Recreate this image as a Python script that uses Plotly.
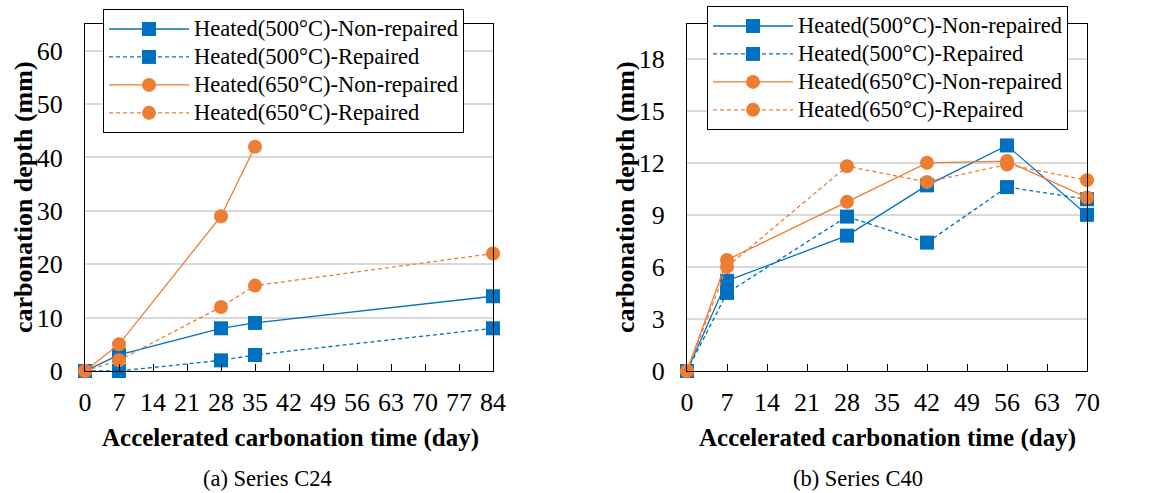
import plotly.graph_objects as go

# ---- data: carbonation depth (mm) vs accelerated carbonation time (day) ----
days_c24 = [0, 7, 28, 35, 84]
c24_500_nonrep = [0, 3, 8, 9, 14]
c24_500_rep = [0, 0, 2, 3, 8]
c24_650_nonrep_days = [0, 7, 28, 35]
c24_650_nonrep = [0, 5, 29, 42]
c24_650_rep = [0, 2, 12, 16, 22]

days_c40 = [0, 7, 28, 42, 56, 70]
c40_500_nonrep = [0, 5.2, 7.8, 10.7, 13.0, 9.0]
c40_500_rep = [0, 4.5, 8.9, 7.4, 10.6, 9.9]
c40_650_nonrep = [0, 6.4, 9.75, 12.0, 12.1, 10.0]
c40_650_rep = [0, 6.0, 11.8, 10.9, 11.9, 11.0]

series_names = [
    "Heated(500°C)-Non-repaired",
    "Heated(500°C)-Repaired",
    "Heated(650°C)-Non-repaired",
    "Heated(650°C)-Repaired",
]
x_ticks_c24 = list(range(0, 85, 7))
x_ticks_c40 = list(range(0, 71, 7))
y_ticks_c24 = list(range(0, 61, 10))
y_ticks_c40 = list(range(0, 19, 3))

W, H = 1161, 493
BLUE = "#0070C0"
ORANGE = "#ED7D31"
SERIF = "Liberation Serif"


def fx(px):
    return px / W


def fy(py):
    return 1 - py / H


def style(i):
    color = BLUE if i < 2 else ORANGE
    symbol = "square" if i < 2 else "circle"
    dash = "solid" if i % 2 == 0 else "4px,3px"
    return dict(
        line=dict(color=color, width=1.3, dash=dash),
        marker=dict(color=color, symbol=symbol, size=14),
    )


def legend_label(name):
    # larger glyphs than the legend font so rows stay compact
    return f'<span style="font-size:22.5px">{name}</span>'


fig = go.Figure()

c24 = [
    (days_c24, c24_500_nonrep),
    (days_c24, c24_500_rep),
    (c24_650_nonrep_days, c24_650_nonrep),
    (days_c24, c24_650_rep),
]
for i, (xs, ys) in enumerate(c24):
    fig.add_trace(go.Scatter(x=xs, y=ys, mode="lines+markers", name=legend_label(series_names[i]),
                             xaxis="x", yaxis="y", legend="legend",
                             cliponaxis=False, **style(i)))

c40 = [c40_500_nonrep, c40_500_rep, c40_650_nonrep, c40_650_rep]
for i, ys in enumerate(c40):
    fig.add_trace(go.Scatter(x=days_c40, y=ys, mode="lines+markers", name=legend_label(series_names[i]),
                             xaxis="x2", yaxis="y2", legend="legend2",
                             cliponaxis=False, **style(i)))

tick_font = dict(family=SERIF, size=26, color="black")
common_x = dict(showline=True, mirror=True, linecolor="black", linewidth=1.2,
                ticks="inside", ticklen=7, tickcolor="black", tickwidth=1.2,
                showgrid=False, zeroline=False, tickfont=tick_font,
                ticklabelstandoff=8, automargin=False)
common_y = dict(showline=True, mirror=True, linecolor="black", linewidth=1.2,
                ticks="", showgrid=True, gridcolor="#D9D9D9", gridwidth=1.6,
                zeroline=False, tickfont=tick_font, ticklabelstandoff=16,
                automargin=False)

legend_common = dict(xanchor="left", yanchor="top",
                     bgcolor="white", bordercolor="black", borderwidth=1,
                     font=dict(family=SERIF, size=19.2, color="black"),
                     tracegroupgap=0, itemwidth=80)

y_dom = [fy(371), fy(24)]
fig.update_layout(
    width=W, height=H,
    margin=dict(l=0, r=0, t=0, b=0, autoexpand=False),
    paper_bgcolor="white", plot_bgcolor="white",
    font=dict(family=SERIF, color="black"),
    xaxis=dict(domain=[fx(85), fx(493)], range=[0, 84], tickvals=x_ticks_c24,
               anchor="y", **common_x),
    yaxis=dict(domain=y_dom, range=[0, 65], tickvals=y_ticks_c24, anchor="x", **common_y),
    xaxis2=dict(domain=[fx(687), fx(1087)], range=[0, 70], tickvals=x_ticks_c40,
                anchor="y2", **common_x),
    yaxis2=dict(domain=y_dom, range=[0, 20], tickvals=y_ticks_c40, anchor="x2", **common_y),
    legend=dict(x=fx(103), y=fy(9), **legend_common),
    legend2=dict(x=fx(707), y=fy(6), **legend_common),
)

xtitle_font = dict(family=SERIF, size=25, color="black", weight="bold")
ytitle_font = dict(family=SERIF, size=26, color="black", weight="bold")
caption_font = dict(family=SERIF, size=22.5, color="black")
annotations = [
    # y-axis titles
    dict(text="carbonation depth (mm)", x=fx(23), y=fy(197), textangle=-90, font=ytitle_font),
    dict(text="carbonation depth (mm)", x=fx(625), y=fy(197), textangle=-90, font=ytitle_font),
    # x-axis titles
    dict(text="Accelerated carbonation time (day)", x=fx(290), y=fy(438), font=xtitle_font),
    dict(text="Accelerated carbonation time (day)", x=fx(887), y=fy(438), font=xtitle_font),
    # panel captions
    dict(text="(a) Series C24", x=fx(267), y=fy(478), font=caption_font),
    dict(text="(b) Series C40", x=fx(858), y=fy(478), font=caption_font),
]
for a in annotations:
    fig.add_annotation(xref="paper", yref="paper", showarrow=False,
                       xanchor="center", yanchor="middle", **a)

fig.write_html("out.html")
